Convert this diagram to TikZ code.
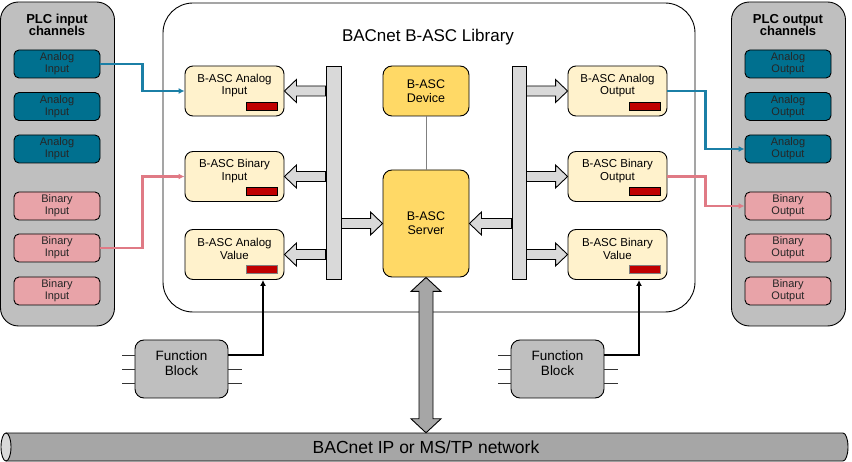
\documentclass[tikz,border=0pt]{standalone}
\usepackage{fontspec}
\setmainfont{Liberation Sans}
\usetikzlibrary{calc,arrows.meta}

\definecolor{plcgray}{HTML}{BFBFBF}
\definecolor{anablue}{HTML}{00708F}
\definecolor{binpink}{HTML}{E8A3A8}
\definecolor{objcream}{HTML}{FFF2CC}
\definecolor{coreyellow}{HTML}{FFD966}
\definecolor{bargray}{HTML}{D9D9D9}
\definecolor{netgray}{HTML}{A6A6A6}
\definecolor{flagred}{HTML}{C00000}
\definecolor{analine}{HTML}{1B7FA6}
\definecolor{binline}{HTML}{E07A85}

\tikzset{
  panel/.style={draw, line width=0.9pt, fill=plcgray, rounded corners=18pt, minimum width=114pt, minimum height=324pt},
  paneltitle/.style={align=center, font=\fontsize{13}{12.5}\selectfont\bfseries, inner sep=0pt},
  plcbox/.style={draw, line width=0.9pt, rounded corners=5pt, minimum width=86pt, minimum height=28pt, align=center, font=\fontsize{11}{12}\selectfont, text=black!85, inner sep=0pt},
  libbox/.style={draw, line width=0.9pt, rounded corners=30pt, minimum width=532pt, minimum height=309pt},
  objbox/.style={draw, line width=0.9pt, fill=objcream, rounded corners=8pt, minimum width=99pt, minimum height=50pt},
  objtxt/.style={align=center, font=\fontsize{11.5}{12.5}\selectfont, inner sep=0pt},
  corebox/.style={draw, line width=0.9pt, fill=coreyellow, rounded corners=9pt, minimum width=86pt, align=center, font=\fontsize{12.5}{14}\selectfont, inner sep=0pt},
  bar/.style={draw, line width=0.9pt, fill=bargray, minimum width=15pt, minimum height=213pt},
  blockarr/.style={draw, line width=0.9pt, fill=bargray},
  dblarr/.style={draw, line width=0.9pt, fill=netgray},
  flag/.style={draw, line width=0.9pt, fill=flagred},
  fblock/.style={draw, line width=0.9pt, fill=plcgray, rounded corners=9pt, minimum width=93pt, minimum height=58pt},
  fbtxt/.style={align=center, font=\fontsize{13.5}{15}\selectfont, inner sep=0pt},
  pin/.style={line width=0.9pt, black!80},
  chan/.style={line width=2.4pt, -{Latex[length=6pt,width=6pt]}},
  ctrl/.style={line width=2.4pt, -{Latex[length=6pt,width=6pt]}}
}

\newcommand{\objbox}[5][black]{%
  \node[objbox] (#2) at (#3,#4) {};
  \node[objtxt] (#2-txt) at ([yshift=5.5pt]#2.center) {#5};
  \draw[flag,draw=#1] ([xshift=-7pt,yshift=6pt]#2.south east) rectangle ++(-31,-8);}

\newcommand{\blockarrow}[3]{%
  \draw[blockarr] ($(#1)+(0,-5)$) -- ($(#2)+(-12*#3,-5)$) -- ($(#2)+(-12*#3,-11.5)$) -- (#2)
    -- ($(#2)+(-12*#3,11.5)$) -- ($(#2)+(-12*#3,5)$) -- ($(#1)+(0,5)$) -- cycle;}

\begin{document}
\begin{tikzpicture}[x=1pt,y=-1pt]
  \useasboundingbox (0,0) rectangle (852,462);

  \node[panel] (inpanel) at (57.5,164) {};
  \node[paneltitle] (intitle) at (57,25) {PLC input\\channels};
  \foreach \n/\y in {1/64,2/106.5,3/149}
    \node[plcbox,fill=anablue] (ai\n) at (57,\y) {Analog\\Input};
  \foreach \n/\y in {1/206,2/248,3/291}
    \node[plcbox,fill=binpink] (bi\n) at (57,\y) {Binary\\Input};

  \node[panel] (outpanel) at (788.5,164) {};
  \node[paneltitle] (outtitle) at (788,25) {PLC output\\channels};
  \foreach \n/\y in {1/64,2/106.5,3/149}
    \node[plcbox,fill=anablue] (ao\n) at (788,\y) {Analog\\Output};
  \foreach \n/\y in {1/206,2/248,3/291}
    \node[plcbox,fill=binpink] (bo\n) at (788,\y) {Binary\\Output};

  \node[libbox] (lib) at (429,157.5) {};
  \node[font=\fontsize{17}{18}\selectfont] (libtitle) at (428,37) {BACnet B-ASC Library};

  \objbox{lai}{234.5}{91}{B-ASC Analog\\Input}
  \objbox{lbi}{234.5}{176.5}{B-ASC Binary\\Input}
  \objbox[gray]{lav}{234.5}{254.5}{B-ASC Analog\\Value}
  \objbox{rao}{617.5}{91}{B-ASC Analog\\Output}
  \objbox{rbo}{617.5}{176.5}{B-ASC Binary\\Output}
  \objbox[gray]{rbv}{617.5}{254.5}{B-ASC Binary\\Value}

  \node[corebox,minimum height=50pt] (dev) at (426,91) {B-ASC\\Device};
  \node[corebox,minimum height=107pt] (srv) at (426,223.5) {B-ASC\\Server};
  \draw[line width=0.9pt,gray] (dev) -- (srv);

  \node[bar] (lbar) at (333.5,172.5) {};
  \node[bar,minimum width=14pt] (rbar) at (519,172.5) {};

  \blockarrow{lbar.west |- lai.east}{lai.east}{-1}
  \blockarrow{lbar.west |- lbi.east}{lbi.east}{-1}
  \blockarrow{lbar.west |- lav.east}{lav.east}{-1}
  \blockarrow{lbar.east |- srv.west}{srv.west}{1}
  \blockarrow{rbar.west |- srv.east}{srv.east}{-1}
  \blockarrow{rbar.east |- rao.west}{rao.west}{1}
  \blockarrow{rbar.east |- rbo.west}{rbo.west}{1}
  \blockarrow{rbar.east |- rbv.west}{rbv.west}{1}

  \draw[chan,analine] (ai1.east) -- ++(42,0) |- (lai.west);
  \draw[chan,binline] (bi2.east) -- ++(42,0) |- (lbi.west);
  \draw[chan,analine] (rao.east) -- ++(38,0) |- (ao3.west);
  \draw[chan,binline] (rbo.east) -- ++(38,0) |- (bo1.west);

  \filldraw[line width=0.9pt,fill=netgray] (6,433) -- (843,433) arc[start angle=-90,end angle=90,x radius=5,y radius=14] -- (6,461);
  \filldraw[line width=0.9pt,fill=bargray] (6,447) ellipse[x radius=5,y radius=14];
  \node[font=\fontsize{17.5}{20}\selectfont,minimum height=28pt,inner sep=0pt] (bus) at (426,447) {BACnet IP or MS/TP network};

  \draw[dblarr] (srv.south) -- ++(15,14) -- ++(-8,0) -- ($(srv.south |- bus.north)+(7,-14)$) -- ++(8,0)
    -- (srv.south |- bus.north) -- ++(-15,-14) -- ++(8,0) -- ($(srv.south)+(-7,14)$) -- ++(-8,0) -- cycle;

  \node[fblock] (lfb) at (181.5,369) {};
  \node[fbtxt] (lfb-txt) at ([yshift=6pt]lfb.center) {Function\\Block};
  \node[fblock] (rfb) at (557.5,369) {};
  \node[fbtxt] (rfb-txt) at ([yshift=6pt]rfb.center) {Function\\Block};
  \foreach \f in {lfb,rfb} {
    \foreach \s in {14,0,-14}
      \draw[pin] ([yshift=\s pt]\f.west) -- ++(-13,0);
    \foreach \s in {0,-14}
      \draw[pin] ([yshift=\s pt]\f.east) -- ++(14,0);
  }
  \draw[ctrl] ([yshift=14pt]lfb.east) -| ([xshift=28.5pt]lav.south);
  \draw[ctrl] ([yshift=14pt]rfb.east) -| ([xshift=21.5pt]rbv.south);
\end{tikzpicture}
\end{document}
